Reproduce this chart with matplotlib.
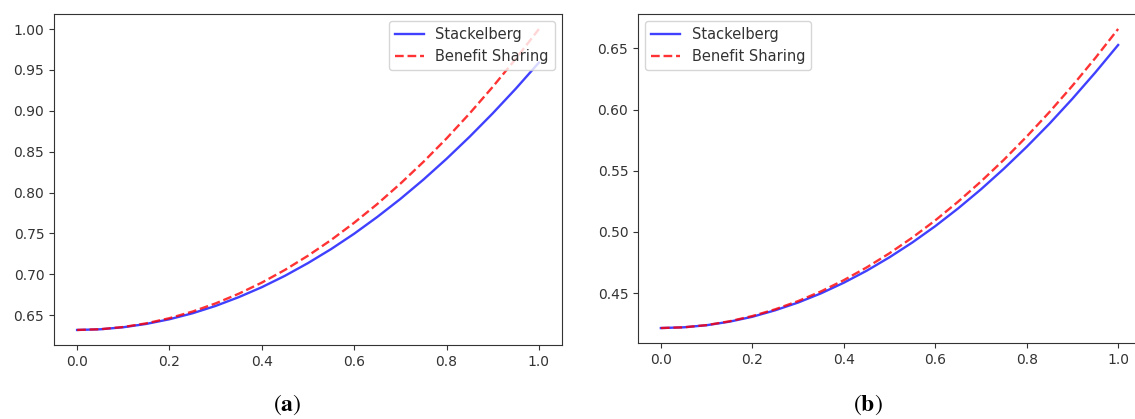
import matplotlib.pyplot as plt
import numpy as np

plt.rcParams['mathtext.fontset'] = 'stix'

# x grid shared by all curves
x = [0.00, 0.05, 0.10, 0.15, 0.20, 0.25, 0.30, 0.35, 0.40, 0.45, 0.50,
     0.55, 0.60, 0.65, 0.70, 0.75, 0.80, 0.85, 0.90, 0.95, 1.00]

# panel (a)
stack_a = [0.6320, 0.6328, 0.6353, 0.6394, 0.6451, 0.6524, 0.6614, 0.6721,
           0.6843, 0.6982, 0.7138, 0.7309, 0.7497, 0.7702, 0.7922, 0.8159,
           0.8413, 0.8683, 0.8969, 0.9271, 0.9590]
share_a = [0.6320, 0.6329, 0.6356, 0.6401, 0.6464, 0.6545, 0.6645, 0.6763,
           0.6899, 0.7054, 0.7228, 0.7420, 0.7631, 0.7860, 0.8109, 0.8376,
           0.8662, 0.8968, 0.9293, 0.9637, 1.0000]

# panel (b)
stack_b = [0.4215, 0.4221, 0.4238, 0.4267, 0.4307, 0.4360, 0.4423, 0.4498,
           0.4585, 0.4683, 0.4793, 0.4914, 0.5047, 0.5192, 0.5348, 0.5516,
           0.5695, 0.5885, 0.6088, 0.6302, 0.6527]
share_b = [0.4215, 0.4221, 0.4239, 0.4270, 0.4313, 0.4368, 0.4435, 0.4514,
           0.4606, 0.4710, 0.4826, 0.4954, 0.5094, 0.5247, 0.5412, 0.5589,
           0.5779, 0.5980, 0.6194, 0.6420, 0.6658]

fig = plt.figure(figsize=(11.35, 4.19), dpi=100)
ax1 = fig.add_axes([54 / 1135, 74 / 419, 508 / 1135, 331 / 419])
ax2 = fig.add_axes([638 / 1135, 76 / 419, 503 / 1135, 329 / 419])

for ax, s, b, loc in [(ax1, stack_a, share_a, "upper right"),
                      (ax2, stack_b, share_b, "upper left")]:
  ax.plot(x, s, color="blue", alpha=0.75, lw=1.7, label="Stackelberg")
  ax.plot(x, b, color="red", alpha=0.8, lw=1.7, ls="--", label="Benefit Sharing")
  ax.tick_params(labelsize=10, colors="#333333")
  for sp in ax.spines.values():
    sp.set_color("#333333")
  leg = ax.legend(loc=loc, fontsize=10.5)
  for t in leg.get_texts():
    t.set_color("#333333")

ax1.set_xticks([0.0, 0.2, 0.4, 0.6, 0.8, 1.0])
ax2.set_xticks([0.0, 0.2, 0.4, 0.6, 0.8, 1.0])

fig.text(287 / 1135, 1 - 405 / 419, r"($\mathbf{a}$)", ha="center", va="center",
         fontsize=17, family="STIXGeneral")
fig.text(868 / 1135, 1 - 405 / 419, r"($\mathbf{b}$)", ha="center", va="center",
         fontsize=17, family="STIXGeneral")

fig.savefig("out.png", dpi=100)
